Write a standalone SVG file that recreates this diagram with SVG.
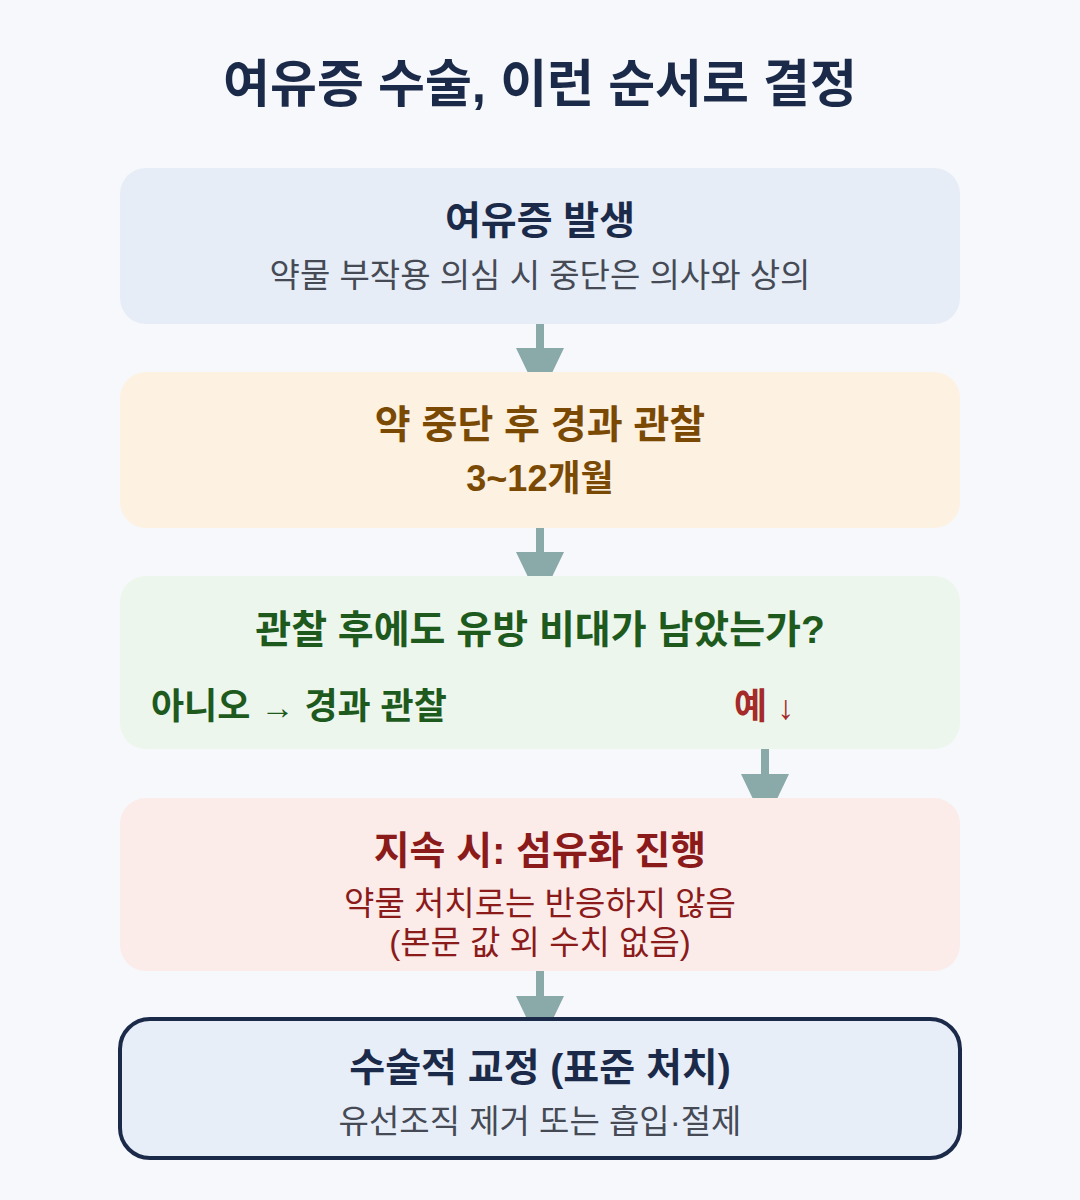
<svg xmlns="http://www.w3.org/2000/svg" width="1080" height="1200" viewBox="0 0 1080 1200">
<style>
text{font-family:"Liberation Sans","Noto Sans CJK KR",sans-serif;text-anchor:middle}
.t{font-weight:bold;font-size:39px}
.s{font-size:33px}
.conn line{stroke:#8aa9a9;stroke-width:8}
.conn polygon{fill:#8aa9a9}
</style>
<rect width="1080" height="1200" fill="#f6f8fc"/>
<text x="540" y="102" font-size="51" font-weight="bold" fill="#1c2a4a">여유증 수술, 이런 순서로 결정</text>
<g id="connectors" class="conn">
<line x1="540" y1="324" x2="540" y2="352"/><polygon points="516,348 564,348 540,398"/>
<line x1="540" y1="528" x2="540" y2="556"/><polygon points="516,552 564,552 540,602"/>
<line x1="765" y1="749" x2="765" y2="778"/><polygon points="741,774 789,774 765,824"/>
<line x1="540" y1="971" x2="540" y2="1000"/><polygon points="516,996 564,996 540,1046"/>
</g>
<g id="n1">
<rect x="120" y="168" width="840" height="156" rx="26" fill="#e6edf7"/>
<text class="t" x="540" y="234" fill="#1c2a4a">여유증 발생</text>
<text class="s" x="540" y="287" fill="#454a55">약물 부작용 의심 시 중단은 의사와 상의</text>
</g>
<g id="n2">
<rect x="120" y="372" width="840" height="156" rx="26" fill="#fdf1e1"/>
<text class="t" x="540" y="438" fill="#7a4a05">약 중단 후 경과 관찰</text>
<text x="540" y="491" fill="#7a4a05" style="font-weight:bold;font-size:36px">3~12개월</text>
</g>
<g id="n3">
<rect x="120" y="576" width="840" height="173" rx="26" fill="#edf6ec"/>
<text class="t" x="540" y="643" fill="#1e5a1e">관찰 후에도 유방 비대가 남았는가?</text>
<text x="151" y="719" font-size="36" font-weight="bold" fill="#1e5a1e" style="text-anchor:start">아니오 <tspan font-size="34" font-weight="normal">→</tspan> 경과 관찰</text>
<text x="734" y="719" font-size="36" font-weight="bold" fill="#a52a2a" style="text-anchor:start">예 <tspan font-size="34" font-weight="normal">↓</tspan></text>
</g>
<g id="n4">
<rect x="120" y="798" width="840" height="173" rx="26" fill="#fbecea"/>
<text class="t" x="540" y="864" fill="#8b1a1a">지속 시: 섬유화 진행</text>
<text class="s" x="540" y="915" fill="#8b1a1a">약물 처치로는 반응하지 않음</text>
<text class="s" x="540" y="954" fill="#8b1a1a">(본문 값 외 수치 없음)</text>
</g>
<g id="n5">
<rect x="120" y="1019" width="840" height="139" rx="30" fill="#e8eef8" stroke="#1c2a4a" stroke-width="4"/>
<text class="t" x="540" y="1081" fill="#1c2a4a">수술적 교정 (표준 처치)</text>
<text class="s" x="540" y="1133" fill="#454a55">유선조직 제거 또는 흡입·절제</text>
</g>
</svg>
